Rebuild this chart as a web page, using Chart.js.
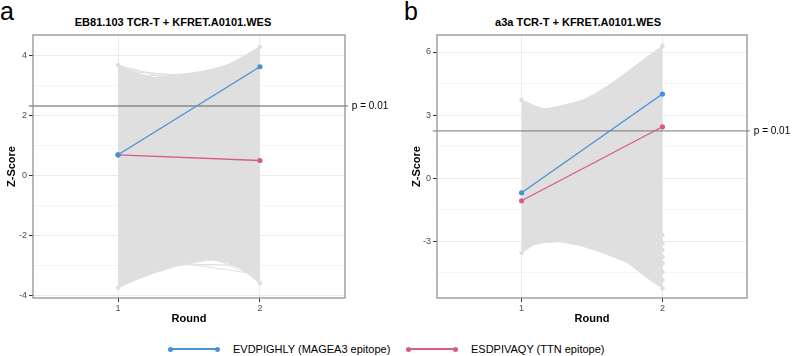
<!DOCTYPE html>
<html>
<head>
<meta charset="utf-8">
<script src="https://cdn.jsdelivr.net/npm/chart.js@4.4.1/dist/chart.umd.min.js"></script>
<style>
  body { margin: 0; background: #fff; font-family: 'Liberation Sans', Arial, sans-serif; }
  #wrap { position: relative; width: 794px; height: 356px; overflow: hidden; }
  canvas { position: absolute; top: 0; }
  #chart-a { left: 0; }
  #chart-b { left: 397px; }
  .letter { position: absolute; top: -1px; font-size: 25px; line-height: 25px; color: #000; }
  .ptitle { position: absolute; top: 16px; font-size: 11px; line-height: 13px; font-weight: bold; white-space: nowrap; transform: translateX(-50%); }
  .legend { position: absolute; top: 342px; left: 0; width: 794px; height: 14px; font-size: 11px; line-height: 14px; }
  .key { position: absolute; top: 0; height: 14px; }
  .key .ln { position: absolute; top: 6px; left: 0; width: 48px; height: 2px; }
  .key .dot { position: absolute; top: 4.5px; width: 5px; height: 5px; border-radius: 50%; }
  .key span.txt { position: absolute; left: 63px; top: 0; white-space: nowrap; color: #000; }
</style>
</head>
<body>
<div id="wrap">
  <div class="letter" style="left:0px;">a</div>
  <div class="letter" style="left:404px;">b</div>
  <div class="ptitle" id="title-a" style="left:173px;"></div>
  <div class="ptitle" id="title-b" style="left:578px;"></div>
  <canvas id="chart-a" width="397" height="330"></canvas>
  <canvas id="chart-b" width="397" height="330"></canvas>
  <div class="legend" id="legend"></div>
</div>
<script>
'use strict';

// GLOBAL DATA

let rounds = [1, 2];
let pLabel = 'p = 0.01';
let seriesNames = ['EVDPIGHLY (MAGEA3 epitope)', 'ESDPIVAQY (TTN epitope)'];
let seriesColors = ['#4592d6', '#d65a8e'];
let greyColor = '#dfdfdf';

// panel a
let titleA = 'EB81.103 TCR-T + KFRET.A0101.WES';
let pThresholdA = 2.33;
let mageaA = [0.70, 3.64];
let ttnA = [0.70, 0.51];
let greyStartA = [3.70, 3.60, 3.50, 3.30, 3.10, 2.80, 2.30, 1.60, -3.74, -3.50, -3.20, -2.90, -2.60, -1.50, 0.00];
let greyEndA = [2.40, 2.90, 3.20, 3.50, 3.75, 3.95, 4.10, 4.31, -1.50, -2.20, -2.60, -3.00, -3.30, -3.40, -3.58];
let bandXA = [1, 1.12, 1.25, 1.40, 1.53, 1.65, 1.77, 1.88, 2];
let bandTopA = [3.70, 3.45, 3.29, 3.33, 3.42, 3.53, 3.70, 3.95, 4.31];
let bandBottomA = [-3.74, -3.48, -3.25, -3.03, -2.90, -2.80, -2.90, -3.12, -3.58];
let dotEndsA = [];
let yTicksA = [-4, -2, 0, 2, 4];
let yMinorA = [-3, -1, 1, 3];

// panel b
let titleB = 'a3a TCR-T + KFRET.A0101.WES';
let pThresholdB = 2.25;
let mageaB = [-0.70, 4.00];
let ttnB = [-1.08, 2.44];
let greyStartB = [3.71, 3.50, 3.30, 3.00, 2.60, 2.00, 1.30, -3.57, -3.30, -2.80, -2.90, -2.70, -2.40, -2.00, -1.50, -0.80, -0.30];
let greyEndB = [0.90, 2.20, 3.30, 4.60, 5.00, 5.60, 6.29, 1.20, -1.50, -2.71, -3.11, -3.43, -3.75, -4.06, -4.46, -4.86, -5.25];
let bandXB = [1, 1.08, 1.15, 1.27, 1.41, 1.52, 1.64, 1.76, 1.88, 2];
let bandTopB = [3.71, 3.45, 3.29, 3.40, 3.63, 4.00, 4.51, 5.10, 5.70, 6.29];
let bandBottomB = [-3.57, -3.19, -3.08, -3.03, -3.20, -3.43, -3.72, -4.06, -4.70, -5.25];
let dotEndsB = [-2.71, -3.11, -3.43, -3.75, -4.06, -4.46, -4.86, -5.25];
let yTicksB = [-3, 0, 3, 6];
let yMinorB = [-4.5, -1.5, 1.5, 4.5];

let fontFamily = "'Liberation Sans', Arial, sans-serif";

// PLUGIN: panel border + threshold label

let panelExtras = {
  id: 'panelExtras',
  afterDatasetsDraw(chart, args, opts) {
    let ctx = chart.ctx;
    let a = chart.chartArea;
    ctx.save();
    ctx.strokeStyle = '#8a8a8a';
    ctx.lineWidth = 1.2;
    ctx.strokeRect(a.left, a.top, a.right - a.left, a.bottom - a.top);
    ctx.fillStyle = '#000';
    ctx.font = '10px ' + fontFamily;
    ctx.textAlign = 'left';
    ctx.textBaseline = 'middle';
    let px = chart.scales.x.getPixelForValue(2.62) + 4;
    let py = chart.scales.y.getPixelForValue(opts.threshold);
    ctx.fillText(pLabel, px, py);
    ctx.restore();
  }
};

// BUILD ONE PANEL

function buildPanel(canvasId, p) {
  let datasets = [];
  let pts = (ys) => rounds.map((r, i) => ({ x: r, y: ys[i] }));

  // grey dots only where they stand out: column extremes + listed round-2 dots
  let colMax = [Math.max(...p.greyStart), Math.max(...p.greyEnd)];
  let colMin = [Math.min(...p.greyStart), Math.min(...p.greyEnd)];
  let greyRadius = (c) => {
    let v = c.raw.y;
    let i = c.dataIndex;
    if (v === colMax[i] || v === colMin[i]) return 2.3;
    if (i === 1 && p.dotEnds.includes(v)) return 2.3;
    return 0;
  };

  datasets.push({
    data: pts(p.magea), borderColor: seriesColors[0], backgroundColor: seriesColors[0],
    borderWidth: 1.3, pointRadius: 2.6, pointBorderWidth: 0
  });
  datasets.push({
    data: pts(p.ttn), borderColor: seriesColors[1], backgroundColor: seriesColors[1],
    borderWidth: 1.3, pointRadius: 2.6, pointBorderWidth: 0
  });
  datasets.push({
    data: [{ x: 0.37, y: p.threshold }, { x: 2.62, y: p.threshold }],
    borderColor: 'rgba(110,110,110,0.75)', borderWidth: 1.3, pointRadius: 0, clip: false
  });
  for (let i = 0; i < p.greyStart.length; i++) {
    datasets.push({
      data: pts([p.greyStart[i], p.greyEnd[i]]),
      borderColor: greyColor, backgroundColor: greyColor,
      borderWidth: 1, pointRadius: greyRadius, pointBorderWidth: 0
    });
  }
  datasets.push({
    data: p.bandX.map((x, i) => ({ x: x, y: p.bandTop[i] })),
    borderColor: greyColor, borderWidth: 1, pointRadius: 0,
    fill: '+1', backgroundColor: greyColor
  });
  datasets.push({
    data: p.bandX.map((x, i) => ({ x: x, y: p.bandBottom[i] })),
    borderColor: greyColor, borderWidth: 1, pointRadius: 0, fill: false
  });

  let isMajor = (v) => p.yTicks.includes(v);

  return new Chart(document.getElementById(canvasId), {
    type: 'line',
    data: { datasets: datasets },
    options: {
      responsive: false,
      animation: false,
      devicePixelRatio: 1,
      events: [],
      layout: { padding: { top: 35, right: p.padRight, bottom: 0, left: 0 } },
      plugins: {
        legend: { display: false },
        tooltip: { enabled: false },
        panelExtras: { threshold: p.threshold }
      },
      elements: { line: { tension: 0 } },
      scales: {
        x: {
          type: 'linear', min: 0.4, max: 2.6,
          afterBuildTicks: (ax) => { ax.ticks = rounds.map(v => ({ value: v })); },
          afterFit: (ax) => { ax.height = 32; },
          border: { display: false },
          grid: { color: '#ebebeb', tickColor: '#333', tickLength: 4 },
          ticks: { color: '#4d4d4d', font: { size: 9, family: fontFamily }, padding: 1, maxRotation: 0, autoSkip: false },
          title: { display: true, text: 'Round', color: '#000', font: { size: 11, weight: 'bold', family: fontFamily }, padding: { top: 0, bottom: 4 } }
        },
        y: {
          type: 'linear', min: p.yMin, max: p.yMax,
          afterBuildTicks: (ax) => { ax.ticks = p.yTicks.concat(p.yMinor).sort((a, b) => a - b).map(v => ({ value: v })); },
          afterFit: (ax) => { ax.width = p.axisWidth; },
          border: { display: false },
          grid: {
            color: (c) => isMajor(c.tick.value) ? '#ebebeb' : '#f5f5f5',
            tickColor: (c) => isMajor(c.tick.value) ? '#333' : 'rgba(0,0,0,0)',
            tickLength: 4
          },
          ticks: {
            color: '#4d4d4d', font: { size: 9, family: fontFamily }, padding: 2, autoSkip: false,
            callback: (v) => isMajor(v) ? String(v) : ''
          },
          title: { display: true, text: 'Z-Score', color: '#000', font: { size: 11, weight: 'bold', family: fontFamily }, padding: { top: p.titlePad, bottom: 0 } }
        }
      }
    },
    plugins: [panelExtras]
  });
}

buildPanel('chart-a', {
  magea: mageaA, ttn: ttnA, greyStart: greyStartA, greyEnd: greyEndA,
  bandX: bandXA, bandTop: bandTopA, bandBottom: bandBottomA, dotEnds: dotEndsA,
  threshold: pThresholdA,
  yTicks: yTicksA, yMinor: yMinorA, yMin: -4.08, yMax: 4.7,
  padRight: 52, axisWidth: 33, titlePad: 5
});

buildPanel('chart-b', {
  magea: mageaB, ttn: ttnB, greyStart: greyStartB, greyEnd: greyEndB,
  bandX: bandXB, bandTop: bandTopB, bandBottom: bandBottomB, dotEnds: dotEndsB,
  threshold: pThresholdB,
  yTicks: yTicksB, yMinor: yMinorB, yMin: -5.71, yMax: 6.81,
  padRight: 47, axisWidth: 40, titlePad: 13
});

// TITLES + LEGEND

document.getElementById('title-a').textContent = titleA;
document.getElementById('title-b').textContent = titleB;

let legendEl = document.getElementById('legend');
let keyLeft = [170, 408];
for (let i = 0; i < seriesNames.length; i++) {
  let key = document.createElement('div');
  key.className = 'key';
  key.style.left = keyLeft[i] + 'px';
  let c = seriesColors[i];
  key.innerHTML =
    '<div class="ln" style="background:' + c + '"></div>' +
    '<div class="dot" style="left:-2px;background:' + c + '"></div>' +
    '<div class="dot" style="left:45px;background:' + c + '"></div>' +
    '<span class="txt"></span>';
  key.querySelector('.txt').textContent = seriesNames[i];
  legendEl.appendChild(key);
}
</script>
</body>
</html>
